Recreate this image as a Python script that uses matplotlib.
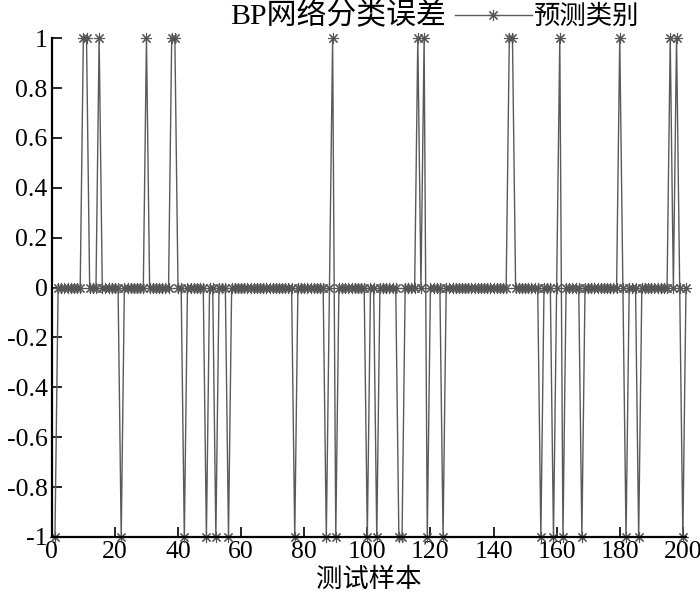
import numpy as np
import matplotlib.pyplot as plt

plt.rcParams['font.family'] = ['Liberation Serif', 'Noto Sans CJK SC']
plt.rcParams['axes.unicode_minus'] = False

# test samples where the predicted class is off by +1 / -1
n_samples = 201
up_idx = [10, 11, 15, 30, 38, 39, 89, 116, 118, 145, 146, 161, 180, 196, 198]
down_idx = [1, 22, 42, 49, 52, 56, 77, 87, 90, 100, 103, 110, 111, 119, 124,
            155, 159, 162, 168, 182, 186, 200]

x = np.arange(1, n_samples + 1)
err = np.zeros(n_samples)
err[np.array(up_idx) - 1] = 1
err[np.array(down_idx) - 1] = -1

fig = plt.figure(figsize=(7.0, 5.96), dpi=100)
ax = fig.add_axes([0.074, 0.099, 0.906, 0.837])

ax.plot(x, err, color='#5a5a5a', linewidth=1.0, marker=(8, 2, 0), markersize=8,
        markeredgecolor='#555555', markeredgewidth=0.8,
        clip_on=False, label='预测类别')

ax.set_xlim(0, 201)
ax.set_ylim(-1, 1)
ax.set_xticks(np.arange(0, 201, 20))
ax.set_yticks(np.round(np.arange(-1, 1.01, 0.2), 1))
ax.set_yticklabels(['-1', '-0.8', '-0.6', '-0.4', '-0.2', '0', '0.2', '0.4', '0.6', '0.8', '1'])
ax.tick_params(direction='in', length=7, width=1.2, labelsize=18.5, pad=3)
ax.spines['top'].set_visible(False)
ax.spines['right'].set_visible(False)
ax.spines['left'].set_linewidth(1.6)
ax.spines['bottom'].set_linewidth(1.6)

ax.set_xlabel('测试样本', fontsize=19, labelpad=3)
fig.text(0.483, 0.972, 'BP网络分类误差', fontsize=21.5, ha='center', va='center')
fig.legend(loc='center left', bbox_to_anchor=(0.65, 0.972), frameon=False,
           fontsize=19, handlelength=2.9, handletextpad=0.1, borderpad=0, borderaxespad=0)

fig.savefig('out.png', dpi=100)
